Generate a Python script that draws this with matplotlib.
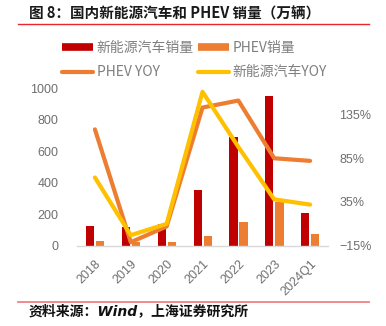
import matplotlib
matplotlib.use("Agg")
import matplotlib.pyplot as plt
from matplotlib.lines import Line2D
import numpy as np

plt.rcParams['font.family'] = ['Noto Sans CJK SC', 'DejaVu Sans']
plt.rcParams['axes.unicode_minus'] = True

# Annual sales (10k units) and YoY growth (%)
years = ["2018", "2019", "2020", "2021", "2022", "2023", "2024Q1"]
nev_sales = [127, 121, 137, 352, 689, 950, 209]
phev_sales = [27, 23, 25, 60, 152, 280, 75]
phev_yoy = [118, -11, 7, 143, 151, 85, 82]
nev_yoy = [63, -3, 10, 161, 98, 38, 32]

left_ticks = [0, 200, 400, 600, 800, 1000]
right_ticks = [-15, 35, 85, 135]

c_red = "#C00000"
c_orange = "#ED7D31"
c_yellow = "#FFC000"
c_tick = "#6f6f6f"

fig = plt.figure(figsize=(3.86, 3.26), dpi=100)
ax = fig.add_axes([77/386, 1-245.7/326, 251/386, 157.4/326])
ax2 = ax.twinx()

x = np.arange(len(years))
bw = 0.23
ax.bar(x - 0.135, nev_sales, bw, color=c_red, zorder=2)
ax.bar(x + 0.145, phev_sales, bw, color=c_orange, zorder=2)

ax.set_xlim(-0.5, len(years) - 0.5)
ax.set_ylim(0, 1000)
ax.set_yticks(left_ticks)
ax.set_xticks(x)
ax.set_xticklabels(years, rotation=45, ha='right', rotation_mode='anchor',
                   family='Liberation Sans', fontsize=9, color=c_tick)
for lab in ax.get_yticklabels():
    lab.set_family('Liberation Sans')
    lab.set_fontsize(9)
    lab.set_color(c_tick)
ax.tick_params(axis='y', length=0, pad=13.5)
ax.tick_params(axis='x', length=0, pad=9)

ax2.plot(x, phev_yoy, color=c_orange, lw=3, solid_capstyle='round', solid_joinstyle='round', zorder=3)
ax2.plot(x, nev_yoy, color=c_yellow, lw=3, solid_capstyle='round', solid_joinstyle='round', zorder=4)
ax2.set_ylim(-15, 165)
ax2.set_yticks(right_ticks)
ax2.set_yticklabels([f"{v}%".replace("-", "\u2212") for v in right_ticks],
                    family='Liberation Sans', fontsize=9, color=c_tick)
ax2.tick_params(axis='y', length=0, pad=8)

for a in (ax, ax2):
    for s in ("top", "left", "right"):
        a.spines[s].set_visible(False)
    a.spines["bottom"].set_color("#d9d9d9")
    a.spines["bottom"].set_linewidth(1.0)
ax2.spines["bottom"].set_visible(False)

handles = [
    Line2D([], [], color=c_red, lw=5.5, solid_capstyle='butt'),
    Line2D([], [], color=c_orange, lw=3, solid_capstyle='round'),
    Line2D([], [], color=c_orange, lw=5.5, solid_capstyle='butt'),
    Line2D([], [], color=c_yellow, lw=3, solid_capstyle='round'),
]
labels = ["新能源汽车销量", "PHEV YOY", "PHEV销量", "新能源汽车YOY"]
fig.legend(handles, labels, ncol=2, loc='upper left',
           bbox_to_anchor=(62/386, 1-41/326), frameon=False,
           prop={'size': 10, 'weight': 'light'}, labelcolor="#7f7f7f",
           handlelength=2.2, handletextpad=0.3, columnspacing=0.3,
           labelspacing=0.75, borderpad=0, borderaxespad=0)

fig.text(29/386, 1-14/326, "图 8：国内新能源汽车和 PHEV 销量（万辆）",
         fontsize=10.5, fontweight='bold', va='center', ha='left', color="#1a1a1a")
fig.add_artist(Line2D([18/386, 369/386], [1-24/326, 1-24/326], color="#e8262b", lw=1.0))
fig.add_artist(Line2D([18/386, 369/386], [1-301.5/326, 1-301.5/326], color="#f28080", lw=1.3))
fig.text(29/386, 1-311/326, "资料来源：Wind，上海证券研究所",
         fontsize=10, fontweight='bold', style='italic', va='center', ha='left',
         color="#111111", family=['DejaVu Sans', 'Noto Sans CJK SC'])

fig.savefig("out.png", dpi=100)
